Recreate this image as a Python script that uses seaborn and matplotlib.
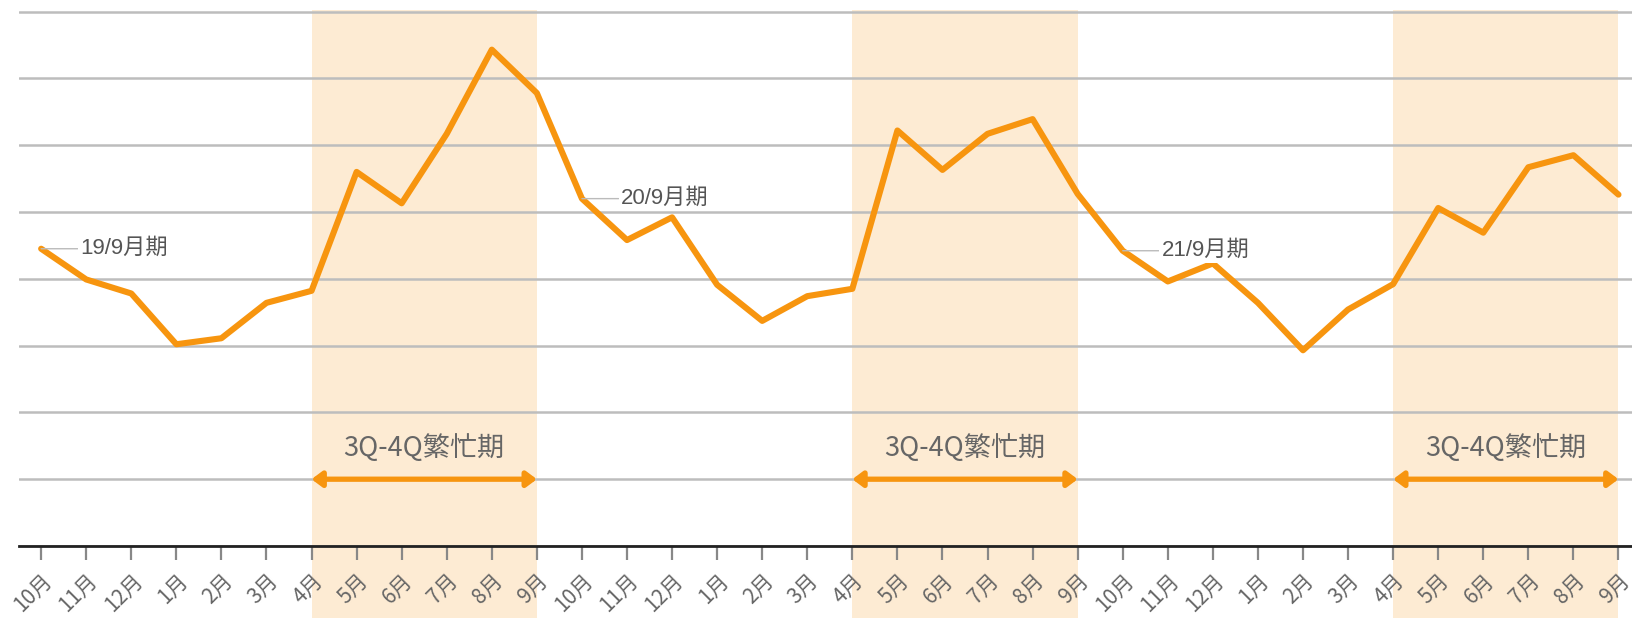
import matplotlib
matplotlib.use("Agg")
import matplotlib.pyplot as plt
import seaborn as sns
import pandas as pd

# Data (arbitrary units; gridlines at 0..8)
months = ["10月", "11月", "12月", "1月", "2月", "3月",
          "4月", "5月", "6月", "7月", "8月", "9月"] * 3
values = [4.45, 3.99, 3.78, 3.02, 3.11, 3.64, 3.82, 5.60, 5.13, 6.17, 7.43, 6.78,
          5.20, 4.58, 4.92, 3.91, 3.37, 3.74, 3.85, 6.22, 5.63, 6.17, 6.39, 5.27,
          4.42, 3.96, 4.23, 3.64, 2.93, 3.54, 3.92, 5.06, 4.69, 5.67, 5.85, 5.26]
fy_labels = ["19/9月期", "20/9月期", "21/9月期"]
fy_start = [0, 12, 24]
busy_label = "3Q-4Q繁忙期"
busy_ranges = [(6, 11), (18, 23), (30, 35)]

df = pd.DataFrame({"idx": range(len(values)), "value": values})

sns.set_style("white")
plt.rcParams["font.family"] = ["Noto Sans CJK JP", "DejaVu Sans"]

orange = "#F7950F"
shade = "#FDEBD3"

fig = plt.figure(figsize=(16.32, 6.18), dpi=100)
ax = fig.add_axes([0.0114, 0.1165, 0.9886, 0.868])

# busy-season shading
for a, b in busy_ranges:
    ax.axvspan(a, b, ymin=-0.14, ymax=1.0, color=shade, lw=0, zorder=0, clip_on=False)

sns.lineplot(data=df, x="idx", y="value", color=orange, linewidth=4.4, ax=ax, zorder=3)

# fiscal year labels
for lab, i in zip(fy_labels, fy_start):
    ax.annotate(lab, xy=(i, values[i]), xytext=(28, 0), textcoords="offset points",
                ha="left", va="center", fontsize=16, color="#555555",
                family=["Liberation Sans", "Noto Sans CJK JP"],
                bbox=dict(boxstyle="square,pad=0.1", fc="white", ec="none"),
                arrowprops=dict(arrowstyle="-", color="#BBBBBB", lw=1,
                                shrinkA=0, shrinkB=0), zorder=4)

# busy period arrows and text
for a, b in busy_ranges:
    ax.annotate("", xy=(a, 1.0), xytext=(b, 1.0),
                arrowprops=dict(arrowstyle="<|-|>,head_length=0.6,head_width=0.45",
                                color=orange, lw=3.8, shrinkA=0, shrinkB=0), zorder=4)
    ax.text((a + b) / 2, 1.47, busy_label, ha="center", va="center",
            fontsize=19.5, color="#666666", zorder=4)

ax.set_xlim(-0.5, 35.3)
ax.set_ylim(0, 8.03)
ax.set_yticks(range(0, 9))
ax.set_yticklabels([])
ax.tick_params(axis="y", left=False, length=0)
ax.grid(axis="y", color="#BDBDBD", lw=1.8)
ax.grid(axis="x", visible=False)
ax.set_axisbelow(True)

ax.set_xticks(range(len(months)))
ax.set_xticklabels(months, rotation=45, ha="right", va="top", rotation_mode="anchor",
                   fontsize=15, color="#666666")
ax.tick_params(axis="x", bottom=True, length=10, width=1.6, color="#888888", pad=7)
ax.set_xlabel("")
ax.set_ylabel("")

for s in ["top", "right", "left"]:
    ax.spines[s].set_visible(False)
ax.spines["bottom"].set_color("#222222")
ax.spines["bottom"].set_linewidth(2)
ax.spines["bottom"].set_zorder(5)

fig.savefig("out.png", dpi=100)
